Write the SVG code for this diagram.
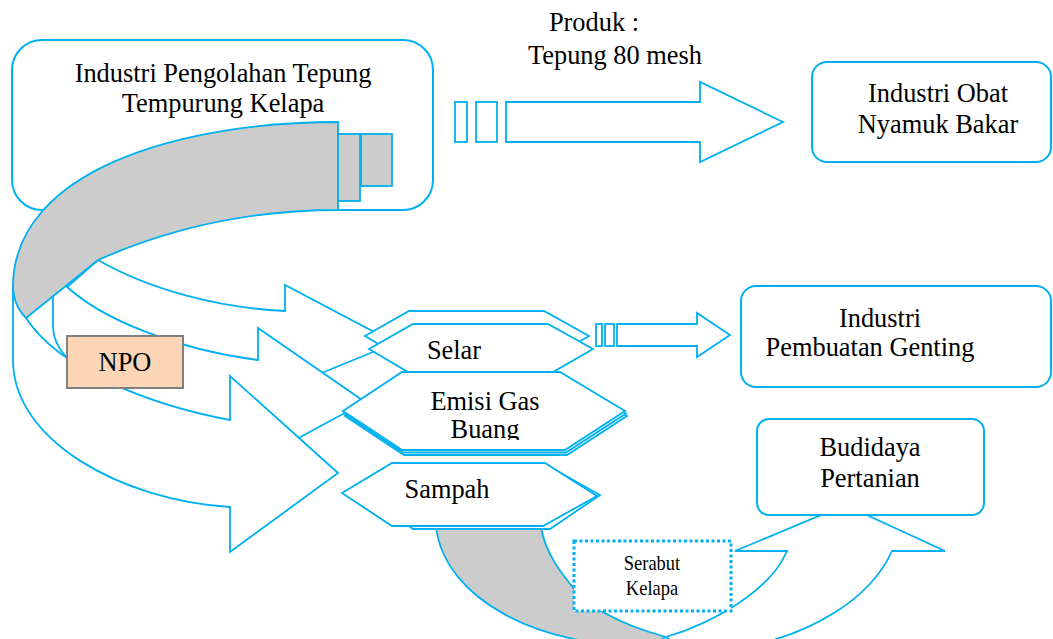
<svg xmlns="http://www.w3.org/2000/svg" width="1053" height="639" viewBox="0 0 1053 639">
<style>
.b{fill:#fff;stroke:#00B0F0;stroke-width:2}
.a{fill:#fff;stroke:#00B0F0;stroke-width:1.8;stroke-linejoin:miter}
.g{fill:#CCCCCC;stroke:#00B0F0;stroke-width:1.8}
.t{font-family:'Liberation Serif','Times New Roman',serif;font-size:26.4px;fill:#000;text-anchor:middle}
.s{font-family:'Liberation Serif','Times New Roman',serif;font-size:21px;fill:#000;text-anchor:middle}
</style>
<defs>
<clipPath id="clipBuang"><rect x="330" y="360" width="300" height="80"/></clipPath>
<polygon id="hexEmisi" points="343,411 402,372 560,372 625,411 565,450 402,450"/>
</defs>
<rect width="1053" height="639" fill="#fff"/>

<g id="node-industri-tepung">
<rect class="b" x="12" y="40" width="421" height="170" rx="30"/>
<text class="t" x="223" y="82">Industri Pengolahan Tepung</text>
<text class="t" x="223" y="112">Tempurung Kelapa</text>
</g>

<g id="connectors">
<path class="a" d="M98,260 C150,290 220,308 285,311 L285,285 L395,343 L285,388 L285,362 C200,370 100,330 66,288 Z"/>
<path class="a" d="M63,283 C100,320 180,350 258,360 L258,328 L365,402 L258,460 L258,428 C180,420 90,395 67,358 C55,345 53,335 53,327 L53,290 Z"/>
<path class="a" d="M13,285 L13,360 C13,440 120,500 230,507 L230,552 L338,473 L230,376 L230,420 C150,405 60,370 26,318 Z"/>
<path class="g" d="M338,122 C180,122 15,170 13,285 C13,300 18,310 26,318 L98,260 C170,228 250,210 338,210 Z"/>
<rect class="g" x="338" y="134" width="22" height="67"/>
<rect class="g" x="361" y="134" width="31" height="52"/>
<rect class="a" x="455" y="102" width="12" height="40"/>
<rect class="a" x="476" y="102" width="21" height="40"/>
<polygon class="a" points="506,102 700,102 700,82 783,122 700,162 700,142 506,142"/>
<rect class="a" x="596" y="324" width="6" height="22"/>
<rect class="a" x="605" y="324" width="9" height="22"/>
<polygon class="a" points="617,324 697,324 697,313 730,335 697,357 697,346 617,346"/>
<path class="g" d="M436,527 C445,600 540,648 650,646 L666,637 C640,630 620,622 603,612 L575,590 C560,572 545,552 541,527 Z"/>
<path class="a" d="M666,637 C710,624 770,592 787,551 L735,551 L845,505 L945,551 L892,551 C870,600 810,635 740,648 L680,648 Z"/>
</g>

<g id="node-produk-label">
<text class="t" x="594" y="31">Produk :</text>
<text class="t" x="615" y="64">Tepung 80 mesh</text>
</g>

<g id="node-obat-nyamuk">
<rect class="b" x="812" y="62" width="239" height="100" rx="15"/>
<text class="t" x="938" y="102">Industri Obat</text>
<text class="t" x="938" y="133">Nyamuk Bakar</text>
</g>

<g id="node-genting">
<rect class="b" x="741" y="286" width="310" height="101" rx="15"/>
<text class="t" x="880" y="327">Industri</text>
<text class="t" x="870" y="356">Pembuatan Genting</text>
</g>

<g id="node-selar">
<polygon class="a" points="365,336 409,311 544,311 589,336 549,359 404,359"/>
<polygon class="a" points="369,349 413,324 548,324 593,349 553,372 408,372"/>
<text class="t" x="454" y="359">Selar</text>
</g>

<g id="node-emisi">
<use href="#hexEmisi" class="a" transform="translate(2,5)"/>
<use href="#hexEmisi" class="a" transform="translate(1,2.5)"/>
<use href="#hexEmisi" class="a"/>
<g clip-path="url(#clipBuang)">
<text class="t" x="485" y="410">Emisi Gas</text>
<text class="t" x="485" y="438">Buang</text>
</g>
</g>

<g id="node-sampah">
<polygon class="a" points="360,490 400,466 548,466 600,495 550,529 413,529"/>
<polygon class="a" points="342,493 392,463 545,463 597,496 543,526 392,526"/>
<text class="t" x="447" y="498">Sampah</text>
</g>

<g id="node-npo">
<rect x="67" y="336" width="116" height="52" fill="#FBD5B5" stroke="#808080" stroke-width="2"/>
<text class="t" x="125" y="371">NPO</text>
</g>

<g id="node-budidaya">
<rect class="b" x="757" y="419" width="227" height="96" rx="12"/>
<text class="t" x="870" y="456">Budidaya</text>
<text class="t" x="870" y="487">Pertanian</text>
</g>

<g id="node-serabut">
<rect x="574" y="541" width="157" height="70" fill="#fff" stroke="#00B0F0" stroke-width="3" stroke-dasharray="3,2.5"/>
<g transform="translate(652,0) scale(0.88,1)">
<text class="s" x="0" y="570">Serabut</text>
<text class="s" x="0" y="595">Kelapa</text>
</g>
</g>
</svg>
